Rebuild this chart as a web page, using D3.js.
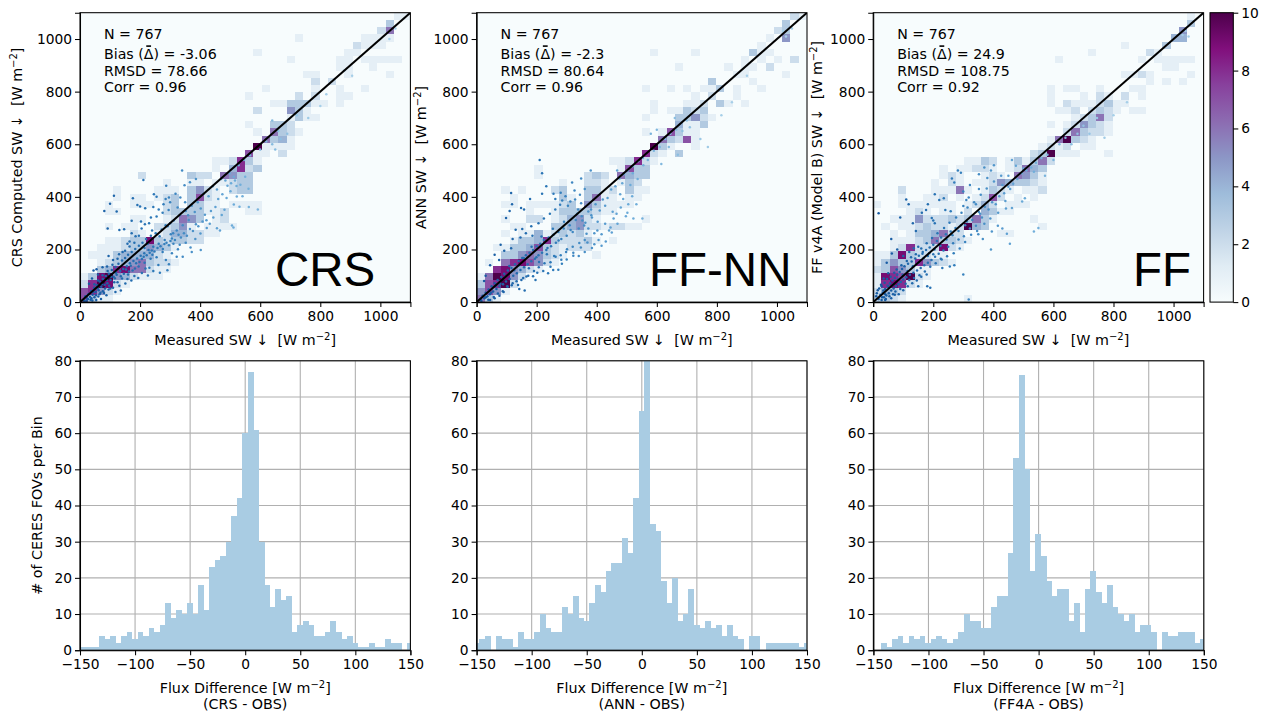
<!DOCTYPE html>
<html>
<head>
<meta charset="utf-8">
<script src="https://d3js.org/d3.v7.min.js"></script>
<style>
html, body { margin: 0; padding: 0; background: #fff; }
svg { display: block; }
text { font-family: "DejaVu Sans", sans-serif; fill: #000; white-space: pre; }
.axis text { font-size: 13.8px; }
.axis path, .axis line { stroke: #000; stroke-width: 1.05px; }
.label { font-size: 14.3px; }
.stat { font-size: 14.2px; }
.big { font-family: "Liberation Sans", sans-serif; font-size: 47.5px; }
.cell, .bar { shape-rendering: crispEdges; }
</style>
</head>
<body>
<div id="chart"></div>
<script>
// heat map rows: [row, first column, counts...]  bin = 27.5 W m-2
var crsRows = [
  [0,0,7,3,1,1],[1,0,7,8,5,2,1],[2,0,2,8,10,9,2,1],[3,0,1,3,9,10,5,4,2,1,1,1],
  [4,2,3,4,8,9,6,6,2,1,1],[5,2,1,2,3,4,5,6,3,2,2,1],[6,1,1,1,1,3,4,4,4,4,2,1],
  [7,2,1,1,1,2,3,3,5,4,3,1],[8,3,1,1,2,3,3,9,3,2,3,3,2,2],[9,6,2,1,0,1,2,4,4,2,2,1,1],
  [10,3,1,0,1,1,0,0,2,2,3,5,1,0,1,1,1,1],[11,6,1,1,0,0,1,2,6,5,3,0,1,2],
  [12,3,1,1,0,0,0,0,0,2,3,3,3,3,1,1,2,0,0,1,1],[13,3,1,0,0,1,1,1,0,2,3,0,3,3,1,1,0,1,1,1,1],
  [14,4,1,0,1,1,0,1,2,3,0,3,7,2,1],[15,4,1,0,0,0,0,1,1,1,0,3,5,2,1,0,2,3,3],
  [16,10,1,0,0,1,1,0,1,1,2,3,3],[17,7,2,0,0,0,0,0,3,2,2,0,6,5,3,3],
  [18,16,1,0,4,8,2,3],[19,16,1,1,2,8,3,1],[20,20,7,1,1,0,2],[21,21,10,1,1,1,1],
  [22,22,6,3,4,1],[23,21,1,0,6,3,2,1],[24,20,1,0,0,3,3,2],[25,25,1,3,1,1],
  [26,21,2,0,0,0,5,3,1],[27,23,1,1,3,3,3,1,1,0,1],[28,20,1,0,0,0,0,0,2,0,2,0,0,1,1],
  [29,22,1,0,0,0,0,0,1,0,0,1,0,0,1],[30,28,2,0,2],[31,27,1,1,0,0,0,1,0,0,0,0,1],
  [32,31,1,1,0,0,1],[33,25,1,0,0,0,0,0,1,1,0,1,1,1,1,1],[34,21,1,0,0,0,0,0,0,0,0,0,0,1,1],
  [35,33,2,1,1,1],[36,26,1,0,0,0,0,0,0,0,1,1,1,1],[37,36,2,6],[38,37,3],[39,38,1,1]
];
var annRows = [
  [0,0,6,3,1],[1,0,5,7,5,1],[2,0,3,7,8,10,2],[3,0,1,6,10,9,5,2],[4,2,8,9,5,4,2,1],
  [5,1,1,0,6,8,9,7,5,2,1],[6,3,3,3,5,6,5,3,2,1,0,0,0,1],[7,2,1,1,3,3,4,7,3,2,1,2,2,2],
  [8,4,1,3,3,4,8,3,2,2,2,3,1,0,1],[9,3,1,0,1,1,4,1,2,3,2,3,1],
  [10,4,1,1,0,0,0,3,3,4,5,2,2,1,2,2,1,1],[11,3,1,0,0,2,2,0,1,2,4,5,2,1,0,0,0,0,0,1],
  [12,6,1,0,0,1,3,3,3,3,2,1,1],[13,3,1,1,0,1,1,1,1,2,3,0,5,3,1,1,1,1],
  [14,4,1,0,0,0,0,0,3,1,0,3,6,1,1,0,1,1],[15,3,1,0,1,0,0,0,2,3,0,0,3,3,1,2,0,3,1,1],
  [16,10,1,0,0,2,2,1,0,1,3,2],[17,7,1,0,0,0,0,0,2,3,2,0,6,4,3,3],[18,7,1,0,0,0,0,0,0,0,0,0,1,7,3,3],
  [19,16,1,1,2,8,2,1],[20,20,8,2,1,0,3],[21,21,10,3,1,0,0,1],[22,22,6,3,2,7,1],
  [23,20,1,0,1,7,3,1,1],[24,24,4,1,1,3],[25,20,1,0,0,0,3,3,5,2,1],[26,21,1,0,1,1,3,2,3],
  [27,21,1,0,0,0,1,1,2,0,3,1,0,1],[28,26,1,0,2,0,0,1],[29,20,1,0,0,1,0,1,0,1,1,3,0,1,0,0,1],
  [30,28,3,0,0,0,0,1],[31,31,1,1,0,0,0,0,1],[32,24,1,0,0,0,0,0,1,0,1,1,0,2],
  [33,32,1,0,1,0,1,0,2],[34,21,1,0,0,0,0,1,0,0,0,0,0,0,3,1,1],[35,34,1],[36,35,1,0,5],
  [37,36,2,3],[38,37,3],[39,38,2,1]
];
var ffRows = [
  [0,0,3,3,2,1,0,0,0,0,0,0,0,1],[1,0,2,4,3,2],[2,0,1,8,9,8,2,1],[3,0,1,9,8,7,10,2,1],
  [4,0,2,3,7,5,3,1,1],[5,0,1,3,5,3,3,8,5,3,2,1],[6,0,1,1,3,9,3,2,2,1,1],
  [7,2,1,2,8,2,2,2,9,2,1],[8,2,1,1,1,2,3,6,3,3,2,1],[9,2,1,0,1,3,3,4,6,2,2,0,0,0,0,1,1],
  [10,1,1,0,1,1,2,3,2,2,1,2,10,4,3,0,0,0,0,0,0,1],[11,2,1,1,1,5,2,2,2,3,2,3,6,3,1,0,0,0,0,1],
  [12,4,1,2,1,0,1,1,0,2,0,4,3,1,1],[13,0,1,0,0,1,1,1,1,1,1,1,0,1,2,4,2,0,1,1,1],
  [14,3,1,0,0,1,1,2,0,1,0,1,2,7,2,0,1,0,1],[15,3,2,0,0,0,1,1,1,6,1,0,1,3,2,1,0,1,1,2],
  [16,7,1,0,2,1,0,1,1,2,5,4,3,3,2,1],[17,8,1,2,1,0,0,1,2,1,0,6,5,3,1],
  [18,8,1,0,1,1,2,2,1,0,1,2,6,4,3],[19,11,1,1,3,2,0,1,3,1,3,6,2],
  [20,19,2,3,10,1,1,1,0,0,0,1],[21,20,1,2,1,2,0,1,1],[22,21,1,6,10,3,2,1],
  [23,23,2,6,3,2,2,1],[24,21,1,0,1,2,5,3,2,1],[25,24,1,2,3,6,2],
  [26,22,1,1,2,0,2,3,2,1,0,1,1],[27,21,1,0,2,1,1,1,2,3,1,1],[28,21,1,0,0,0,1,0,2,1,0,2,0,1],
  [29,21,1,0,1,1,0,0,1,0,0,0,1,1],[30,33,1,0,1,0,1],[31,30,1,1,2,1,0,0,0,0,1],
  [32,35,1,1],[33,22,1,0,0,0,0,0,0,0,0,0,1,0,1,1,1,1,1],[34,26,1,0,0,0,0,0,0,2,1],
  [35,30,1,0,0,0,0,3],[36,36,4,4],[37,37,5],[38,38,3],[39,38,1]
];

// matched points, [measured, computed]
var crsPoints = [
  [81,346],[100,374],[113,404],[122,344],[92,280],[131,274],[147,277],[172,309],[203,306],[176,395],[191,369],[200,363],
  [217,357],[211,464],[244,361],[287,442],[285,392],[246,410],[255,400],[300,380],[318,412],[340,500],[360,330],[300,300],
  [285,292],[310,262],[265,250],[240,272],[226,222],[241,180],[215,206],[181,226],[165,211],[150,195],[130,182],[110,160],
  [95,175],[90,135],[75,132],[60,105],[55,125],[45,120],[40,90],[30,70],[402,198],[372,190],[342,172],[326,201],[311,222],
  [301,232],[281,221],[286,160],[291,121],[266,112],[261,141],[231,131],[226,101],[206,111],[181,99],[171,82],[151,71],
  [131,62],[116,91],[101,52],[76,41],[61,21],[41,6],[421,311],[432,298],[451,361],[472,331],[481,351],[466,272],[456,281],
  [506,291],[511,284],[422,282],[401,261],[501,421],[521,441],[491,442],[522,401],[512,371],[541,402],[561,431],[531,362],
  [562,361],[592,352],[12,8],[18,22],[24,14],[28,31],[33,20],[37,42],[42,28],[47,55],[52,38],[56,64],[62,45],[66,78],[71,58],
  [76,88],[82,66],[86,99],[91,72],[96,108],[102,84],[106,122],[112,96],[118,133],[122,104],[128,146],[134,118],[140,158],
  [144,126],[150,168],[156,136],[160,180],[166,148],[172,190],[178,156],[184,202],[190,166],[196,214],[202,176],[208,226],
  [214,186],[220,240],[228,198],[236,252],[244,210],[252,262],[262,222],[272,276],[282,236],[292,288],[302,258],[312,310],
  [322,272],[332,330],[342,292],[352,346],[362,312],[372,366],[382,342],[392,380],[402,356],[412,412],[428,402],[442,440],
  [456,428],[470,468],[484,462],[498,490],[512,476],[528,520],[546,540],[566,558],[22,5],[35,9],[48,18],[65,30],[80,35],
  [95,48],[110,55],[125,75],[140,90],[160,105],[175,120],[195,135],[215,150],[235,165],[255,170],[275,190],[60,82],[48,68],
  [75,102],[92,118],[108,142],[125,165],[142,190],[165,230],[185,250],[205,280],[230,300],[255,325],[275,340],[295,350],
  [325,360],[350,380],[600,580],[620,610],[640,600],[660,650],[668,620],[690,640],[695,695],[650,580],[640,690],[722,710],
  [760,700],[800,745],[820,790],[880,880],[906,860],[1050,1040],[1030,1000],
  [15,3],[27,12],[38,15],[44,38],[53,26],[59,52],[68,36],[73,68],[84,52],[89,84],[97,62],[104,96],[114,75],[120,112],[136,98],
  [146,108],[153,124],[163,116],[169,138],[183,128],[187,148],[198,152],[206,164],[212,172],[222,178],[232,188],[239,196],
  [248,192],[258,206],[268,212],[276,202],[288,226],[296,216],[306,242],[316,236],[328,256],[336,246],[346,262],[356,252],
  [366,278],[376,270],[386,296],[394,288],[408,306],[416,332],[436,346],[444,322],[460,392],[474,410],[488,396],[503,452],
  [516,462],[534,446],[550,476],[332,218],[352,226],[368,208],[384,240],[306,186],[322,172],[296,144],[244,118],[218,128],
  [194,92],[158,88],[136,44],[118,38],[88,26],[70,12],[54,8],[158,222],[172,262],[196,252],[216,296],[236,322],[262,352],
  [278,372],[296,398],[334,398],[348,444],[366,456],[386,468]
];
var annPoints = [
  [98,320],[110,346],[115,415],[118,372],[148,358],[158,352],[178,392],[218,412],[232,440],[218,490],[210,540],[256,412],
  [262,392],[280,416],[285,386],[318,455],[344,408],[304,366],[328,390],[348,376],[348,470],[380,500],[360,430],[382,330],
  [372,280],[402,272],[416,258],[450,265],[430,230],[456,318],[488,392],[502,340],[522,318],[552,318],[505,372],[478,410],
  [512,445],[536,468],[468,500],[520,516],[555,520],[182,288],[152,278],[130,275],[120,240],[115,205],[92,195],[80,218],
  [75,160],[60,180],[45,140],[30,100],[25,80],[212,210],[234,182],[258,175],[280,178],[298,190],[320,210],[342,225],[360,236],
  [392,220],[360,190],[340,175],[300,162],[272,123],[255,122],[238,110],[222,118],[208,152],[202,112],[188,98],[172,100],
  [155,92],[138,65],[120,72],[102,60],[90,38],[76,24],[60,15],[45,8],[14,9],[20,24],[26,15],[30,36],[36,22],[40,48],[44,30],
  [50,60],[55,40],[60,72],[66,50],[70,84],[76,60],[82,95],[88,68],[92,108],[98,78],[104,120],[110,88],[116,130],[122,100],
  [128,144],[134,110],[140,156],[146,122],[152,168],[158,132],[164,178],[170,144],[176,188],[182,155],[188,198],[194,165],
  [200,212],[206,178],[212,222],[218,188],[224,236],[232,198],[240,246],[248,212],[256,256],[264,226],[272,266],[282,240],
  [290,280],[300,252],[310,292],[320,266],[330,312],[340,280],[350,326],[362,302],[372,344],[384,322],[396,372],[410,348],
  [420,390],[436,396],[448,428],[462,440],[476,470],[490,486],[504,500],[520,490],[538,535],[554,548],[570,540],[590,575],
  [610,590],[628,620],[645,640],[665,655],[685,650],[700,690],[660,700],[640,590],[600,655],[580,640],[615,525],[670,560],
  [710,665],[745,620],[770,590],[815,710],[850,760],[900,860],[1030,1010],[1020,1030],[1050,1040],
  [16,4],[31,18],[39,9],[48,36],[57,19],[63,61],[71,33],[79,70],[87,41],[95,96],[103,58],[109,137],[117,64],[125,121],[133,79],
  [141,140],[149,84],[157,168],[166,97],[174,129],[183,210],[191,118],[199,170],[207,132],[216,249],[226,148],[236,206],
  [246,151],[254,279],[263,172],[273,234],[282,161],[291,305],[301,201],[313,274],[322,176],[335,336],[347,208],[358,291],
  [369,227],[381,352],[392,262],[403,305],[416,214],[428,366],[441,272],[453,343],[469,298],[485,452],[497,326],[518,402],
  [532,372],[146,246],[164,262],[186,252],[206,300],[224,318],[244,336],[262,352],[278,370],[296,402],[312,382],[326,424],
  [338,352],[352,310],[366,260],[384,206],[406,236],[428,298],[446,284],[466,336],[480,360],[160,44],[142,50],[196,84],[246,134],[284,146],[322,188]
];
var ffPoints = [
  [18,338],[60,240],[90,322],[110,390],[118,372],[132,300],[142,270],[162,340],[176,350],[182,372],[195,320],[200,310],
  [205,300],[220,388],[205,410],[235,395],[240,350],[258,345],[262,470],[270,455],[282,500],[292,492],[300,365],[300,420],
  [310,388],[318,398],[322,445],[342,372],[352,486],[352,430],[370,512],[380,472],[392,500],[402,520],[430,445],[450,480],
  [462,540],[475,518],[500,508],[442,356],[462,358],[496,382],[505,395],[535,495],[572,480],[535,268],[550,282],[445,260],
  [455,222],[392,200],[365,240],[350,258],[395,268],[415,290],[430,280],[300,105],[318,10],[270,140],[255,135],[230,130],
  [225,165],[200,182],[182,175],[165,190],[150,210],[135,205],[120,190],[100,175],[80,200],[62,185],[45,150],[50,110],[35,90],
  [28,60],[15,45],[10,22],[18,12],[24,28],[28,8],[32,36],[36,18],[40,50],[44,25],[48,62],[52,34],[56,72],[60,44],[64,82],
  [68,52],[72,92],[76,60],[80,104],[84,68],[88,114],[92,76],[96,126],[100,86],[104,136],[110,94],[116,146],[122,104],[128,154],
  [134,112],[140,166],[146,120],[152,176],[158,130],[164,184],[170,140],[176,198],[182,150],[188,208],[194,160],[200,218],
  [206,172],[212,232],[218,184],[226,246],[234,196],[242,258],[250,210],[258,268],[266,224],[274,282],[284,238],[292,292],
  [302,250],[312,306],[322,280],[332,330],[342,290],[352,342],[362,322],[372,362],[384,352],[396,380],[408,372],[420,402],
  [436,414],[450,438],[466,450],[480,468],[494,490],[510,500],[526,512],[542,530],[560,548],[40,8],[60,15],[72,28],[85,30],
  [100,45],[115,60],[130,72],[145,82],[160,96],[178,105],[190,55],[180,60],[150,60],[580,560],[600,540],[620,600],[640,625],
  [660,600],[680,640],[700,670],[720,640],[745,700],[770,625],[800,710],[845,760],[1030,1015],[1040,1030],[1020,1020],[1050,1010],
  [12,34],[20,52],[26,66],[30,18],[38,74],[42,12],[46,88],[54,22],[58,96],[66,30],[70,112],[74,40],[78,124],[90,50],[94,140],
  [108,70],[112,156],[120,84],[126,170],[136,92],[142,182],[154,102],[160,204],[172,116],[178,224],[190,134],[196,244],
  [208,148],[214,262],[228,162],[236,282],[246,174],[254,302],[268,186],[276,322],[288,204],[294,340],[306,228],[314,360],
  [326,256],[336,380],[346,270],[358,408],[370,298],[378,432],[390,318],[402,458],[416,340],[426,480],[440,384],[456,430],
  [34,44],[40,30],[52,58],[66,66],[82,86],[98,104],[114,118],[132,136],[150,150],[168,168],[186,186],[204,200],[224,214],
  [244,238],[264,254],[284,270],[306,292],[330,312],[356,336]
];

// histogram counts, 5 W m-2 bins, first bin starts at the *Start value
var crsHistStart = -152.7;
var crsHist = [1,1,1,1,4,3,4,2,4,5,3,5,4,6,5,7,13,9,11,10,13,10,18,11,23,25,26,30,37,42,60,77,61,30,18,12,17,14,15,5,7,8,7,4,4,5,8,5,3,4,2,1,1,2,1,1,3,2,2,0,2];
var annHistStart = -152.6;
var annHist = [2,3,4,0,4,3,3,1,5,3,3,5,10,6,5,5,12,10,15,9,8,13,18,16,22,24,24,31,27,42,66,82,35,33,19,13,20,8,10,17,7,6,8,6,7,4,7,4,3,0,4,4,0,2,2,2,2,2,2,1,2];
var ffHistStart = -148;
var ffHist = [0,2,1,3,4,2,4,3,4,2,3,4,3,2,3,5,10,8,8,6,6,12,15,15,27,53,76,50,22,32,26,19,15,17,17,8,13,5,17,22,16,13,18,12,10,8,10,5,7,7,5,0,5,4,4,5,5,5,2,3];

var xTicksTop = [0, 200, 400, 600, 800, 1000];
var yTicksTop = [0, 200, 400, 600, 800, 1000];
var xTicksHist = [-150, -100, -50, 0, 50, 100, 150];
var yTicksHist = [0, 10, 20, 30, 40, 50, 60, 70, 80];
var barTicks = [0, 2, 4, 6, 8, 10];
var buPu = ["#f7fcfd", "#e0ecf4", "#bfd3e6", "#9ebcda", "#8c96c6", "#8c6bb1", "#88419d", "#810f7c", "#4d004b"];

var topPanels = [
  {left: 80, rows: crsRows, points: crsPoints, yLabel: "CRS Computed SW \u2193  [W m", yLabelX: 22, big: "CRS", bigX: 275,
   stats: ["N = 767", "Bias (\u0394) = -3.06", "RMSD = 78.66", "Corr = 0.96"]},
  {left: 476.6, rows: annRows, points: annPoints, yLabel: "ANN SW \u2193  [W m", yLabelX: 426, big: "FF-NN", bigX: 649,
   stats: ["N = 767", "Bias (\u0394) = -2.3", "RMSD = 80.64", "Corr = 0.96"]},
  {left: 873.2, rows: ffRows, points: ffPoints, yLabel: "FF v4A (Model B) SW \u2193  [W m", yLabelX: 822, big: "FF", bigX: 1133,
   stats: ["N = 767", "Bias (\u0394) = 24.9", "RMSD = 108.75", "Corr = 0.92"]}
];
var histPanels = [
  {left: 80, start: crsHistStart, counts: crsHist, note: "(CRS - OBS)"},
  {left: 476.6, start: annHistStart, counts: annHist, note: "(ANN - OBS)"},
  {left: 873.4, start: ffHistStart, counts: ffHist, note: "(FF4A - OBS)"}
];

var panelW = 330.4, panelH = 289.4;
var binW = 27.5;
var histW = 5;

var svg = d3.select("#chart").append("svg")
    .attr("width", 1262)
    .attr("height", 714);

var color = d3.scaleLinear()
    .domain(buPu.map(function(c, i) { return i * 10 / 8; }))
    .range(buPu)
    .clamp(true);

var dotColor = d3.scaleLinear()
    .domain([0, 250, 500, 800])
    .range(["#14579f", "#2d79b8", "#6aaad8", "#a6cfe8"])
    .clamp(true);

// label ending in W m^-2 with raised exponent
function addUnitLabel(sel, text) {
    sel.append("tspan").text(text);
    sel.append("tspan").attr("dy", -5).style("font-size", "10px").text("\u22122");
    sel.append("tspan").attr("dy", 5).text("]");
}

function drawTop(p, i) {
    var g = svg.append("g").attr("transform", "translate(" + p.left + ",12.7)");
    var x = d3.scaleLinear().domain([0, 1100]).range([0, panelW]);
    var y = d3.scaleLinear().domain([0, 1100]).range([panelH, 0]);

    var clipId = "topclip" + i;
    g.append("clipPath").attr("id", clipId).append("rect").attr("width", panelW).attr("height", panelH);
    var plot = g.append("g").attr("clip-path", "url(#" + clipId + ")");

    plot.append("rect").attr("width", panelW).attr("height", panelH).attr("fill", buPu[0]);

    var cells = [];
    p.rows.forEach(function(r) {
        r.slice(2).forEach(function(v, k) {
            if (v > 0) cells.push({col: r[1] + k, row: r[0], v: v});
        });
    });
    plot.selectAll(".cell")
        .data(cells)
        .enter().append("rect")
        .attr("class", "cell")
        .attr("x", function(d) { return x(d.col * binW); })
        .attr("y", function(d) { return y((d.row + 1) * binW); })
        .attr("width", x(binW) - x(0))
        .attr("height", y(0) - y(binW))
        .attr("fill", function(d) { return color(d.v); });

    plot.selectAll(".dot")
        .data(p.points)
        .enter().append("circle")
        .attr("class", "dot")
        .attr("cx", function(d) { return x(d[0]); })
        .attr("cy", function(d) { return y(d[1]); })
        .attr("r", 1.25)
        .attr("fill", function(d) { return dotColor(d[0]); });

    plot.append("line")
        .attr("x1", x(0)).attr("y1", y(0))
        .attr("x2", x(1100)).attr("y2", y(1100))
        .attr("stroke", "#000")
        .attr("stroke-width", 2);

    var yAxis = d3.axisLeft(y).tickValues(yTicksTop).tickSize(5).tickPadding(3).tickFormat(d3.format("d"));
    var xAxis = d3.axisBottom(x).tickValues(xTicksTop).tickSize(5).tickPadding(4).tickFormat(d3.format("d"));
    g.append("g").attr("class", "axis").call(yAxis);
    g.append("g").attr("class", "axis").attr("transform", "translate(0," + panelH + ")").call(xAxis);
    g.append("rect").attr("width", panelW).attr("height", panelH)
        .attr("fill", "none").attr("stroke", "#000").attr("stroke-width", 1.05);

    p.stats.forEach(function(s, k) {
        var t = g.append("text").attr("class", "stat").attr("x", 24).attr("y", [26.5, 46, 63.3, 79.3][k]).text(s);
        if (k === 1) {
            // the overbar on the delta sits above the glyph
            var box = t.node().getExtentOfChar(s.indexOf("\u0394"));
            g.append("line")
                .attr("x1", box.x + box.width / 2 - 2.4).attr("x2", box.x + box.width / 2 + 2.4)
                .attr("y1", 33.4).attr("y2", 33.4)
                .attr("stroke", "#000").attr("stroke-width", 1.6);
        }
    });

    svg.append("text").attr("class", "big").attr("x", p.bigX).attr("y", 286).text(p.big);

    var xl = g.append("text").attr("class", "label").attr("text-anchor", "middle")
        .attr("x", panelW / 2).attr("y", panelH + 43);
    addUnitLabel(xl, "Measured SW \u2193  [W m");

    var yl = svg.append("text").attr("class", "label").attr("text-anchor", "middle")
        .attr("transform", "translate(" + p.yLabelX + "," + (12.7 + panelH / 2) + ") rotate(-90)");
    addUnitLabel(yl, p.yLabel);
}

function drawHist(p, i) {
    var g = svg.append("g").attr("transform", "translate(" + p.left + ",360.8)");
    var x = d3.scaleLinear().domain([-150, 150]).range([0, panelW]);
    var y = d3.scaleLinear().domain([0, 80]).range([panelH, 0]);

    var clipId = "histclip" + i;
    g.append("clipPath").attr("id", clipId).append("rect").attr("width", panelW).attr("height", panelH);

    g.selectAll(".gx").data(xTicksHist).enter().append("line")
        .attr("x1", x).attr("x2", x).attr("y1", 0).attr("y2", panelH)
        .attr("stroke", "#b0b0b0").attr("stroke-width", 1.1);
    g.selectAll(".gy").data(yTicksHist).enter().append("line")
        .attr("y1", y).attr("y2", y).attr("x1", 0).attr("x2", panelW)
        .attr("stroke", "#b0b0b0").attr("stroke-width", 1.1);

    g.append("g").attr("clip-path", "url(#" + clipId + ")")
        .selectAll(".bar")
        .data(p.counts)
        .enter().append("rect")
        .attr("class", "bar")
        .attr("x", function(d, k) { return x(p.start + k * histW); })
        .attr("y", function(d) { return y(d); })
        .attr("width", x(histW) - x(0) + 0.3)
        .attr("height", function(d) { return y(0) - y(d); })
        .attr("fill", "#a9cce3");

    var yAxis = d3.axisLeft(y).tickValues(yTicksHist).tickSize(5).tickPadding(3);
    var xAxis = d3.axisBottom(x).tickValues(xTicksHist).tickSize(5).tickPadding(4).tickFormat(d3.format("d"));
    g.append("g").attr("class", "axis").call(yAxis);
    g.append("g").attr("class", "axis").attr("transform", "translate(0," + panelH + ")").call(xAxis);
    g.append("rect").attr("width", panelW).attr("height", panelH)
        .attr("fill", "none").attr("stroke", "#000").attr("stroke-width", 1.05);

    var xl = g.append("text").attr("class", "label").attr("text-anchor", "middle")
        .attr("x", panelW / 2).attr("y", panelH + 43);
    addUnitLabel(xl, "Flux Difference [W m");
    g.append("text").attr("class", "label").attr("text-anchor", "middle")
        .attr("x", panelW / 2).attr("y", panelH + 59).text(p.note);
}

function drawColorbar() {
    var g = svg.append("g").attr("transform", "translate(1210,12.7)");
    var y = d3.scaleLinear().domain([0, 10]).range([panelH, 0]);
    var grad = svg.append("defs").append("linearGradient")
        .attr("id", "barGrad").attr("x1", 0).attr("x2", 0).attr("y1", 1).attr("y2", 0);
    grad.selectAll("stop").data(buPu).enter().append("stop")
        .attr("offset", function(d, i) { return i / 8; })
        .attr("stop-color", function(d) { return d; });
    g.append("rect").attr("width", 23.3).attr("height", panelH)
        .attr("fill", "url(#barGrad)").attr("stroke", "#000").attr("stroke-width", 1.05);
    g.append("g").attr("class", "axis")
        .attr("transform", "translate(23.3,0)")
        .call(d3.axisRight(y).tickValues(barTicks).tickSize(5).tickPadding(3))
        .select(".domain").remove();
}

topPanels.forEach(drawTop);
histPanels.forEach(drawHist);
drawColorbar();

svg.append("text").attr("class", "label").attr("text-anchor", "middle")
    .attr("transform", "translate(42,505.5) rotate(-90)")
    .text("# of CERES FOVs per Bin");
</script>
</body>
</html>
